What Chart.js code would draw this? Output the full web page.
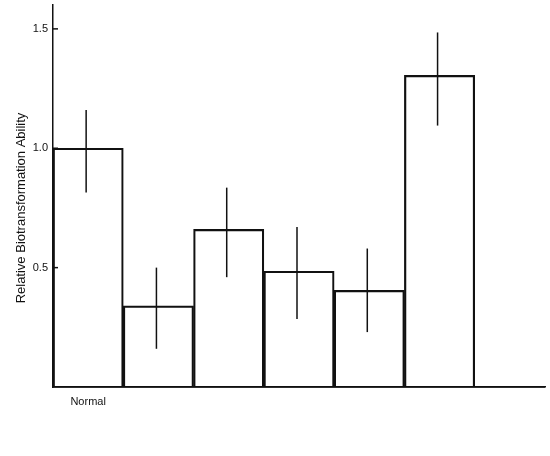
<!DOCTYPE html>
<html>
<head>
<meta charset="utf-8">
<script src="https://cdn.jsdelivr.net/npm/chart.js@4/dist/chart.umd.min.js"></script>
<style>
  html, body { margin: 0; padding: 0; background: #fff; }
  #wrap { width: 550px; height: 456px; }
</style>
</head>
<body>
<div id="wrap"><canvas id="bioChart"></canvas></div>
<script>
// values
const categories = ["Normal", "", "", "", "", "", ""];
const ability = [1.0, 0.34, 0.66, 0.485, 0.405, 1.305, null];
const errHigh = [1.16, 0.50, 0.835, 0.67, 0.58, 1.485, null];
const errLow = [0.815, 0.16, 0.46, 0.285, 0.23, 1.095, null];
const yTicks = [0.5, 1.0, 1.5];
const yTitle = "Relative Biotransformation Ability";

const FONT = "'Liberation Sans', Arial, Helvetica, sans-serif";
const INK = "#111";

// error bars, drawn through the chart's own scales
const errorBars = {
  id: "errorBars",
  afterDatasetsDraw(chart) {
    const { ctx, scales, chartArea } = chart;
    const meta = chart.getDatasetMeta(0);
    ctx.save();
    ctx.strokeStyle = INK;
    ctx.lineWidth = 1.5;
    meta.data.forEach((bar, i) => {
      if (errHigh[i] == null) return;
      const x = bar.x - 2;
      ctx.beginPath();
      ctx.moveTo(x, scales.y.getPixelForValue(errHigh[i]));
      ctx.lineTo(x, scales.y.getPixelForValue(errLow[i]));
      ctx.stroke();
    });
    // short tick marks pointing into the plot
    yTicks.forEach(v => {
      const y = scales.y.getPixelForValue(v);
      ctx.beginPath();
      ctx.moveTo(scales.y.right, y);
      ctx.lineTo(scales.y.right + 5, y);
      ctx.stroke();
    });
    // baseline back on top of the bars
    ctx.beginPath();
    ctx.moveTo(chartArea.left, chartArea.bottom);
    ctx.lineTo(chartArea.right, chartArea.bottom);
    ctx.stroke();
    // rotated axis title
    ctx.fillStyle = INK;
    ctx.font = "13px " + FONT;
    ctx.textAlign = "center";
    ctx.textBaseline = "middle";
    ctx.translate(21, 208);
    ctx.rotate(-Math.PI / 2);
    ctx.fillText(yTitle, 0, 0);
    ctx.restore();
  }
};

new Chart(document.getElementById("bioChart").getContext("2d"), {
  type: "bar",
  data: {
    labels: categories,
    datasets: [{
      data: ability,
      backgroundColor: "rgba(255,255,255,0)",
      borderColor: INK,
      borderWidth: { top: 1.5, left: 1.5, right: 1.5, bottom: 0 },
      borderSkipped: false,
      categoryPercentage: 1,
      barPercentage: 1
    }]
  },
  options: {
    responsive: true,
    maintainAspectRatio: false,
    animation: false,
    devicePixelRatio: 1,
    layout: { padding: { top: 5, right: 5, left: 0, bottom: 0 } },
    plugins: { legend: { display: false }, tooltip: { enabled: false } },
    scales: {
      x: {
        grid: { display: false, drawTicks: false },
        border: { color: INK, width: 1.5 },
        ticks: { color: INK, font: { family: FONT, size: 11 }, padding: 8, maxRotation: 0 },
        afterFit(scale) {
          scale.height = 69;
          scale.paddingLeft = 0;
          scale.paddingRight = 0;
        }
      },
      y: {
        min: 0,
        max: 1.6,
        grid: { display: false, drawTicks: false },
        border: { color: INK, width: 1.5 },
        afterBuildTicks(scale) { scale.ticks = yTicks.map(v => ({ value: v })); },
        ticks: {
          color: INK,
          font: { family: FONT, size: 11 },
          padding: 5,
          callback: v => v.toFixed(1)
        },
        afterFit(scale) {
          scale.width = 53;
          scale.paddingTop = 0;
          scale.paddingBottom = 0;
        }
      }
    }
  },
  plugins: [errorBars]
});
</script>
</body>
</html>
